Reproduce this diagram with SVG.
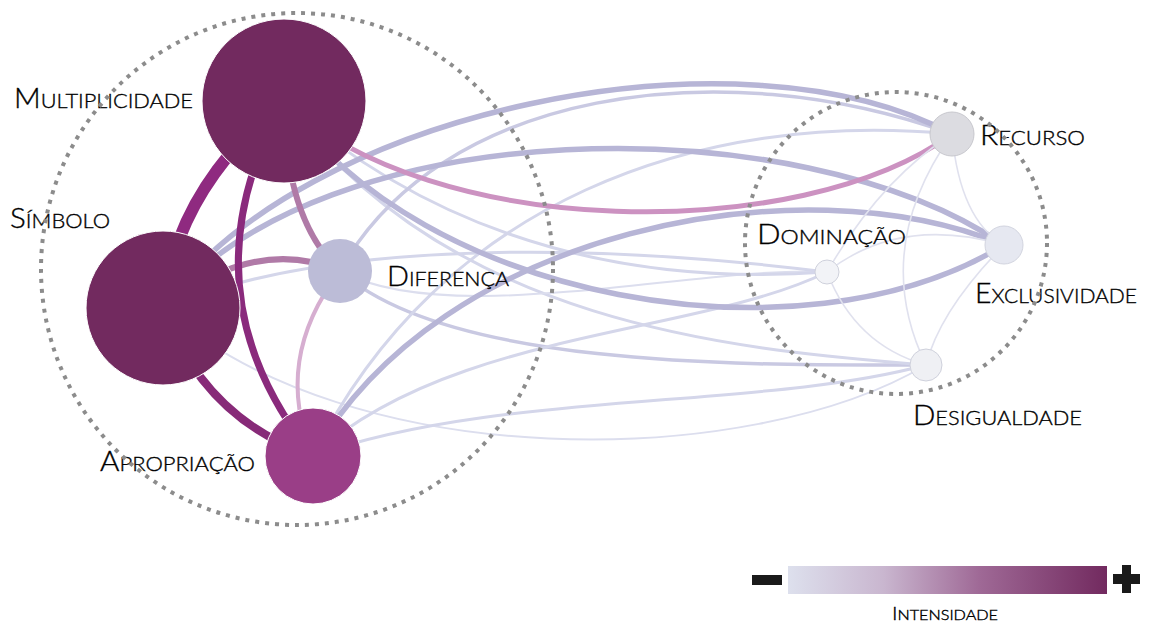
<svg xmlns="http://www.w3.org/2000/svg" width="1157" height="623" viewBox="0 0 1157 623">
  <style>
    .lbl { font-family: Lato, "Open Sans", "DejaVu Sans", sans-serif; font-weight: 300; fill: #000000; stroke: #000000; stroke-width: 0.35; }
    .cap { font-size: 27px; }
    .sc { font-size: 20px; }
    .edge { fill: none; stroke-linecap: round; }
    .thick { stroke: #b7b5d6; stroke-width: 5.5; }
    .mid { stroke: #c9c9e2; stroke-width: 3.5; }
    .light { stroke: #d4d6ea; stroke-width: 3; }
    .thin { stroke: #dcdeee; stroke-width: 2; }
    .inner { stroke: #e0e1ee; stroke-width: 1.6; }
    .ring { fill: none; stroke: #8c8c8c; stroke-width: 4; stroke-dasharray: 4 6; }
  </style>
  <defs>
    <linearGradient id="intensity" x1="0" y1="0" x2="1" y2="0">
      <stop offset="0" stop-color="#dde0ed"/>
      <stop offset="0.3" stop-color="#c9b6cf"/>
      <stop offset="0.6" stop-color="#9f6996"/>
      <stop offset="1" stop-color="#722a5f"/>
    </linearGradient>
  </defs>
  <rect width="1157" height="623" fill="#ffffff"/>

  <g id="connectors">
    <!-- light links between the two clusters -->
    <path class="edge thin" d="M163,308 C350,475 750,470 926,365"/>
    <path class="edge light" d="M313,456 C500,390 760,410 926,365"/>
    <path class="edge mid" d="M340,271 C450,370 760,365 926,365"/>
    <path class="edge light" d="M284,101 C450,330 750,350 926,365"/>
    <path class="edge light" d="M313,456 C450,330 700,335 827,272"/>
    <path class="edge thin" d="M340,271 C450,330 700,265 827,272"/>
    <path class="edge light" d="M284,101 C450,250 650,285 827,272"/>
    <path class="edge light" d="M163,308 C350,230 650,250 827,272"/>
    <path class="edge light" d="M313,456 C440,200 700,110 952,134"/>
    <path class="edge mid" d="M340,271 C440,90 720,50 952,134"/>
    <!-- strong links -->
    <path class="edge thick" d="M163,308 C300,110 740,20 952,134"/>
    <path class="edge thick" d="M163,308 C320,110 800,105 1004,245"/>
    <path class="edge thick" d="M284,101 C420,300 800,370 1004,245"/>
    <path class="edge thick" d="M313,456 C440,230 800,160 1004,245"/>
    <path class="edge" stroke="#cc92c1" stroke-width="5" d="M284,101 C430,240 800,245 952,134"/>
    <!-- links inside the right cluster -->
    <path class="edge inner" d="M952,134 Q880,180 827,272"/>
    <path class="edge inner" d="M952,134 Q960,220 1004,245"/>
    <path class="edge inner" d="M952,134 Q870,250 926,365"/>
    <path class="edge inner" d="M827,272 Q900,215 1004,245"/>
    <path class="edge inner" d="M1004,245 Q940,310 926,365"/>
    <path class="edge inner" d="M827,272 Q855,345 926,365"/>
    <!-- links inside the left cluster -->
    <path class="edge" stroke="#d6aed0" stroke-width="4" d="M340,271 Q272,360 313,456"/>
    <path class="edge" stroke="#b07aa7" stroke-width="6" d="M163,308 Q255,235 340,271"/>
    <path class="edge" stroke="#b07aa7" stroke-width="6" d="M284,101 Q285,220 340,271"/>
    <path class="edge" stroke="#872a78" stroke-width="8" d="M163,308 Q205,420 313,456"/>
    <path class="edge" stroke="#8a2a7c" stroke-width="7" d="M284,101 Q180,290 313,456"/>
    <path class="edge" stroke="#8f2a80" stroke-width="12" d="M284,101 Q175,190 163,308"/>
  </g>

  <g id="multiplicidade">
    <circle cx="284" cy="101" r="82" fill="#722a5f" stroke="#ffffff" stroke-width="1"/>
    <text class="lbl" x="14" y="108" textLength="179" lengthAdjust="spacingAndGlyphs"><tspan class="cap">M</tspan><tspan class="sc">ULTIPLICIDADE</tspan></text>
  </g>
  <g id="simbolo">
    <circle cx="163" cy="308" r="77" fill="#722a5f" stroke="#ffffff" stroke-width="1"/>
    <text class="lbl" x="10" y="228" textLength="100" lengthAdjust="spacingAndGlyphs"><tspan class="cap">S</tspan><tspan class="sc">ÍMBOLO</tspan></text>
  </g>
  <g id="diferenca">
    <circle cx="340" cy="271" r="32" fill="#bcbcd7"/>
    <text class="lbl" x="387" y="286" textLength="122" lengthAdjust="spacingAndGlyphs"><tspan class="cap">D</tspan><tspan class="sc">IFERENÇA</tspan></text>
  </g>
  <g id="apropriacao">
    <circle cx="313" cy="456" r="48" fill="#9a3e87" stroke="#ffffff" stroke-width="1"/>
    <text class="lbl" x="100" y="471" textLength="155" lengthAdjust="spacingAndGlyphs"><tspan class="cap">A</tspan><tspan class="sc">PROPRIAÇÃO</tspan></text>
  </g>
  <g id="recurso">
    <circle cx="952" cy="134" r="22" fill="#dcdce1" stroke="#c8c8ce" stroke-width="1"/>
    <text class="lbl" x="980" y="145" textLength="105" lengthAdjust="spacingAndGlyphs"><tspan class="cap">R</tspan><tspan class="sc">ECURSO</tspan></text>
  </g>
  <g id="exclusividade">
    <circle cx="1004" cy="245" r="19" fill="#e6e8f1" stroke="#d2d4df" stroke-width="1"/>
    <text class="lbl" x="975" y="303" textLength="162" lengthAdjust="spacingAndGlyphs"><tspan class="cap">E</tspan><tspan class="sc">XCLUSIVIDADE</tspan></text>
  </g>
  <g id="dominacao">
    <circle cx="827" cy="272" r="12" fill="#f2f3f7" stroke="#cfd1dc" stroke-width="1"/>
    <text class="lbl" x="757" y="244" textLength="149" lengthAdjust="spacingAndGlyphs"><tspan class="cap">D</tspan><tspan class="sc">OMINAÇÃO</tspan></text>
  </g>
  <g id="desigualdade">
    <circle cx="926" cy="365" r="16" fill="#eff0f4" stroke="#cfd1dc" stroke-width="1"/>
    <text class="lbl" x="913" y="425" textLength="169" lengthAdjust="spacingAndGlyphs"><tspan class="cap">D</tspan><tspan class="sc">ESIGUALDADE</tspan></text>
  </g>

  <!-- dotted cluster outlines -->
  <g id="clusters">
    <circle class="ring" cx="297" cy="269" r="256"/>
    <circle class="ring" cx="896" cy="243" r="151"/>
  </g>

  <!-- intensity scale -->
  <g id="legend">
    <rect x="752" y="575" width="30" height="10" fill="#1a1a1a"/>
    <rect x="788" y="566" width="319" height="28" fill="url(#intensity)"/>
    <rect x="1113" y="574" width="27" height="10" fill="#1a1a1a"/>
    <rect x="1122" y="565" width="9" height="28" fill="#1a1a1a"/>
    <text class="lbl" x="892" y="620" textLength="106" lengthAdjust="spacingAndGlyphs"><tspan font-size="17">I</tspan><tspan font-size="13">NTENSIDADE</tspan></text>
  </g>
</svg>
